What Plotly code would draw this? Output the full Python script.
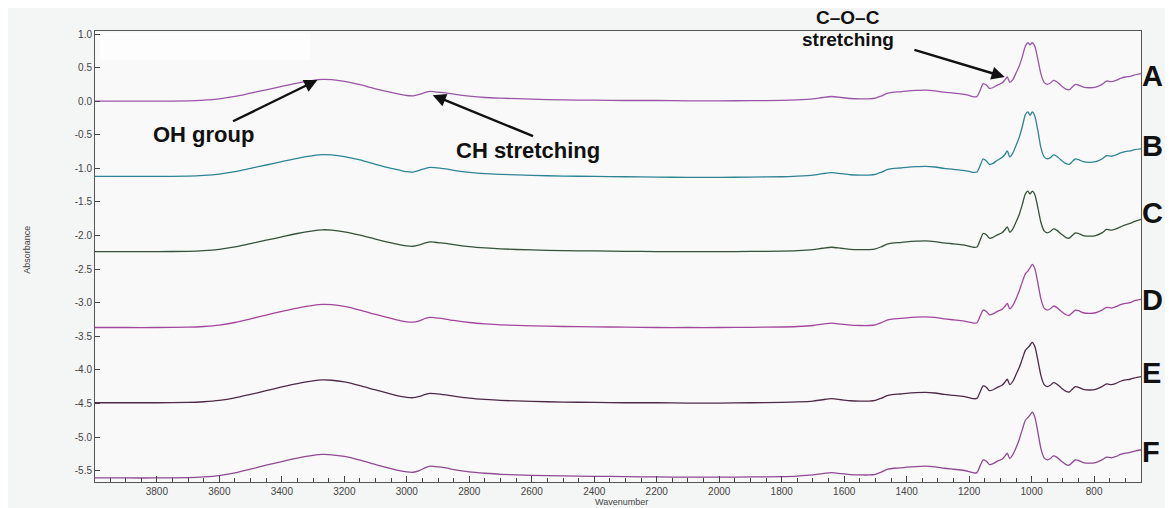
import plotly.graph_objects as go

# Wavenumber knots (cm-1)
wavenumber = [4000, 3900, 3800, 3700, 3650, 3600, 3550, 3500, 3450, 3400,
              3350, 3300, 3270, 3240, 3200, 3150, 3100, 3050, 3020, 3000,
              2980, 2960, 2940, 2925, 2910, 2890, 2870, 2850, 2800, 2750,
              2700, 2600, 2500, 2400, 2300, 2200, 2100, 2000, 1900, 1800,
              1750, 1700, 1670, 1640, 1610, 1580, 1550, 1520, 1500, 1480,
              1460, 1440, 1420, 1400, 1370, 1340, 1310, 1280, 1250, 1220,
              1200, 1185, 1175, 1165, 1155, 1145, 1135, 1125, 1110, 1095,
              1085, 1078, 1070, 1060, 1050, 1040, 1030, 1020, 1012, 1005,
              998, 990, 980, 970, 960, 950, 940, 930, 920, 905,
              890, 880, 870, 860, 850, 835, 815, 795, 775, 760,
              745, 730, 715, 700, 685, 670, 650]

# Absorbance of each spectrum above its own baseline
spec_A = [0.0, 0.0, 0.0, 0.005, 0.015, 0.035, 0.07, 0.12, 0.17, 0.22,
          0.27, 0.31, 0.325, 0.32, 0.295, 0.245, 0.185, 0.13, 0.10, 0.085,
          0.08, 0.10, 0.13, 0.145, 0.14, 0.13, 0.12, 0.105, 0.075, 0.055,
          0.045, 0.03, 0.02, 0.015, 0.01, 0.01, 0.005, 0.005, 0.008, 0.012,
          0.02, 0.035, 0.055, 0.07, 0.055, 0.04, 0.035, 0.035, 0.045, 0.08,
          0.12, 0.135, 0.14, 0.15, 0.16, 0.165, 0.155, 0.135, 0.12, 0.105,
          0.085, 0.065, 0.07, 0.16, 0.26, 0.24, 0.19, 0.20, 0.24, 0.27,
          0.32, 0.36, 0.28, 0.32, 0.42, 0.52, 0.66, 0.82, 0.87, 0.84,
          0.87, 0.82, 0.62, 0.40, 0.28, 0.25, 0.27, 0.31, 0.29, 0.23,
          0.18, 0.17, 0.21, 0.25, 0.24, 0.21, 0.20, 0.21, 0.25, 0.30,
          0.29, 0.31, 0.34, 0.36, 0.37, 0.39, 0.41]
spec_B = [0.0, 0.0, 0.0, 0.005, 0.015, 0.035, 0.07, 0.12, 0.17, 0.22,
          0.27, 0.31, 0.325, 0.32, 0.295, 0.245, 0.18, 0.12, 0.09, 0.07,
          0.065, 0.09, 0.12, 0.135, 0.13, 0.12, 0.11, 0.09, 0.06, 0.04,
          0.03, 0.015, 0.005, 0.0, -0.005, -0.01, -0.015, -0.015, -0.01, -0.005,
          0.005, 0.02, 0.04, 0.055, 0.04, 0.025, 0.02, 0.02, 0.03, 0.065,
          0.105, 0.12, 0.125, 0.135, 0.145, 0.15, 0.14, 0.12, 0.105, 0.09,
          0.075, 0.06, 0.065, 0.16, 0.26, 0.23, 0.18, 0.19, 0.24, 0.28,
          0.33, 0.38, 0.29, 0.35, 0.46, 0.58, 0.74, 0.92, 0.96, 0.91,
          0.96, 0.90, 0.68, 0.42, 0.29, 0.26, 0.28, 0.32, 0.30, 0.24,
          0.19, 0.18, 0.22, 0.26, 0.25, 0.22, 0.21, 0.22, 0.26, 0.31,
          0.30, 0.32, 0.35, 0.37, 0.38, 0.40, 0.41]
spec_C = [0.0, 0.0, 0.0, 0.005, 0.015, 0.035, 0.07, 0.12, 0.17, 0.22,
          0.27, 0.31, 0.325, 0.32, 0.295, 0.245, 0.185, 0.13, 0.10, 0.085,
          0.08, 0.10, 0.13, 0.145, 0.14, 0.13, 0.12, 0.105, 0.075, 0.055,
          0.04, 0.025, 0.015, 0.01, 0.005, 0.0, 0.0, 0.0, 0.003, 0.008,
          0.015, 0.03, 0.05, 0.065, 0.05, 0.035, 0.03, 0.03, 0.04, 0.075,
          0.115, 0.13, 0.135, 0.145, 0.155, 0.16, 0.15, 0.13, 0.115, 0.10,
          0.08, 0.065, 0.07, 0.17, 0.27, 0.25, 0.20, 0.21, 0.25, 0.28,
          0.33, 0.37, 0.29, 0.34, 0.44, 0.55, 0.70, 0.86, 0.90, 0.86,
          0.90, 0.85, 0.65, 0.43, 0.31, 0.28, 0.30, 0.34, 0.32, 0.26,
          0.21, 0.20, 0.24, 0.28, 0.27, 0.24, 0.23, 0.24, 0.28, 0.33,
          0.32, 0.34, 0.37, 0.40, 0.42, 0.45, 0.48]
spec_D = [0.0, 0.0, 0.0, 0.005, 0.015, 0.035, 0.075, 0.13, 0.185, 0.24,
          0.29, 0.33, 0.345, 0.34, 0.315, 0.26, 0.195, 0.135, 0.10, 0.085,
          0.08, 0.10, 0.135, 0.15, 0.145, 0.135, 0.12, 0.105, 0.075, 0.055,
          0.04, 0.025, 0.015, 0.01, 0.005, 0.0, 0.0, 0.0, 0.003, 0.008,
          0.015, 0.03, 0.05, 0.065, 0.05, 0.035, 0.03, 0.03, 0.04, 0.075,
          0.115, 0.13, 0.135, 0.145, 0.155, 0.16, 0.15, 0.13, 0.115, 0.10,
          0.08, 0.065, 0.07, 0.17, 0.26, 0.24, 0.19, 0.20, 0.24, 0.27,
          0.32, 0.36, 0.28, 0.33, 0.43, 0.54, 0.68, 0.80, 0.84, 0.89,
          0.94, 0.88, 0.66, 0.42, 0.29, 0.26, 0.28, 0.32, 0.30, 0.24,
          0.19, 0.18, 0.22, 0.26, 0.25, 0.22, 0.21, 0.22, 0.26, 0.30,
          0.29, 0.31, 0.34, 0.36, 0.37, 0.40, 0.42]
spec_E = [0.0, 0.0, 0.0, 0.005, 0.015, 0.035, 0.072, 0.125, 0.18, 0.235,
          0.285, 0.325, 0.34, 0.335, 0.31, 0.255, 0.19, 0.13, 0.095, 0.08,
          0.075, 0.095, 0.125, 0.14, 0.135, 0.125, 0.115, 0.10, 0.07, 0.05,
          0.035, 0.02, 0.01, 0.005, 0.0, 0.0, -0.005, -0.005, 0.0, 0.005,
          0.012, 0.025, 0.045, 0.06, 0.045, 0.03, 0.025, 0.025, 0.035, 0.07,
          0.11, 0.125, 0.13, 0.14, 0.15, 0.155, 0.145, 0.125, 0.11, 0.095,
          0.075, 0.06, 0.065, 0.16, 0.25, 0.23, 0.18, 0.19, 0.23, 0.26,
          0.31, 0.35, 0.27, 0.32, 0.42, 0.52, 0.65, 0.78, 0.82, 0.86,
          0.90, 0.84, 0.63, 0.40, 0.27, 0.24, 0.26, 0.30, 0.28, 0.22,
          0.17, 0.16, 0.20, 0.24, 0.23, 0.20, 0.19, 0.20, 0.24, 0.28,
          0.27, 0.29, 0.32, 0.34, 0.35, 0.37, 0.39]
spec_F = [0.0, 0.0, 0.0, 0.005, 0.015, 0.035, 0.075, 0.13, 0.19, 0.245,
          0.295, 0.335, 0.35, 0.345, 0.32, 0.265, 0.20, 0.14, 0.105, 0.09,
          0.085, 0.11, 0.155, 0.175, 0.17, 0.16, 0.145, 0.125, 0.09, 0.07,
          0.055, 0.04, 0.03, 0.025, 0.02, 0.015, 0.012, 0.012, 0.015, 0.02,
          0.028, 0.045, 0.065, 0.08, 0.065, 0.05, 0.045, 0.045, 0.055, 0.09,
          0.13, 0.145, 0.15, 0.16, 0.17, 0.175, 0.165, 0.145, 0.13, 0.115,
          0.095, 0.075, 0.08, 0.18, 0.27, 0.25, 0.20, 0.21, 0.25, 0.28,
          0.33, 0.37, 0.29, 0.35, 0.45, 0.57, 0.72, 0.86, 0.90, 0.94,
          0.98, 0.91, 0.68, 0.43, 0.30, 0.27, 0.29, 0.33, 0.31, 0.25,
          0.20, 0.19, 0.23, 0.27, 0.26, 0.23, 0.22, 0.23, 0.27, 0.31,
          0.30, 0.32, 0.35, 0.37, 0.38, 0.40, 0.42]

sample_names = ["A", "B", "C", "D", "E", "F"]
stack_offsets = [0.0, -1.12, -2.24, -3.37, -4.49, -5.61]
spectra = [spec_A, spec_B, spec_C, spec_D, spec_E, spec_F]
line_colors = ["#9a56a6", "#2f8494", "#35523a", "#a2489c", "#4e2a48", "#8e4a92"]
label_y = [0.375, -0.67, -1.67, -2.96, -4.04, -5.22]

y_ticks = [1.0, 0.5, 0.0, -0.5, -1.0, -1.5, -2.0, -2.5, -3.0, -3.5, -4.0, -4.5, -5.0, -5.5]
y_tick_text = ["1.0", "0.5", "0.0", "-0.5", "-1.0", "-1.5", "-2.0", "-2.5", "-3.0",
               "-3.5", "-4.0", "-4.5", "-5.0", "-5.5"]
x_ticks = [3800, 3600, 3400, 3200, 3000, 2800, 2600, 2400, 2200, 2000, 1800, 1600, 1400, 1200, 1000, 800]

fig = go.Figure()
for name, off, spec, col in zip(sample_names, stack_offsets, spectra, line_colors):
    fig.add_trace(go.Scatter(
        x=wavenumber, y=[off + v for v in spec], mode="lines", name=name,
        line=dict(color=col, width=1.3, shape="spline", smoothing=0.7),
        showlegend=False, hoverinfo="skip"))

ann = []
for name, ly in zip(sample_names, label_y):
    ann.append(dict(x=0.999, xref="paper", y=ly, yref="y", text="<b>" + name + "</b>", showarrow=False,
                    xanchor="left", yanchor="middle",
                    font=dict(family="Liberation Sans", size=29, color="#111111")))

bold = dict(family="Liberation Sans", size=22, color="#111111")
coc_font = dict(family="Liberation Sans", size=19, color="#111111")
ann += [
    dict(x=3651, y=-0.50, xref="x", yref="y", text="<b>OH group</b>", showarrow=False, font=bold),
    dict(x=2613, y=-0.73, xref="x", yref="y", text="<b>CH stretching</b>", showarrow=False, font=bold),
    dict(x=1588, y=1.030, xref="x", yref="paper", yanchor="middle",
         text="<b>C–O–C</b>", showarrow=False, font=coc_font),
    dict(x=1588, y=0.982, xref="x", yref="paper", yanchor="middle",
         text="<b>stretching</b>", showarrow=False, font=coc_font),
    dict(x=3286, y=0.315, ax=3561, ay=-0.31, xref="x", yref="y", axref="x", ayref="y", text="",
         showarrow=True, arrowhead=2, arrowsize=1.1, arrowwidth=2.4, arrowcolor="#111111"),
    dict(x=2917, y=0.09, ax=2591, ay=-0.53, xref="x", yref="y", axref="x", ayref="y", text="",
         showarrow=True, arrowhead=2, arrowsize=1.1, arrowwidth=2.4, arrowcolor="#111111"),
    dict(x=1086, y=0.36, ax=1380, ay=0.77, xref="x", yref="y", axref="x", ayref="y", text="",
         showarrow=True, arrowhead=2, arrowsize=1.1, arrowwidth=2.4, arrowcolor="#111111"),
    dict(x=-0.072, y=0.514, xref="paper", yref="paper", text="Absorbance", textangle=-90,
         showarrow=False, font=dict(family="Liberation Sans", size=9, color="#444444")),
    dict(x=0.503, y=-0.029, xref="paper", yref="paper", text="Wavenumber", yanchor="top",
         showarrow=False, font=dict(family="Liberation Sans", size=9, color="#444444")),
]

# The page body has an 8px margin, so the figure is 8px smaller than the window
fig.update_layout(
    width=1165, height=500,
    margin=dict(l=87, r=32, t=23, b=26),
    paper_bgcolor="#f4f5f5", plot_bgcolor="#f9f9f9",
    annotations=ann,
    shapes=[dict(type="rect", xref="paper", yref="paper", x0=0.005, x1=0.206, y0=0.936, y1=0.996,
                 fillcolor="#fdfdfd", line=dict(width=0), layer="below")],
    xaxis=dict(range=[3998, 650], tickmode="array", tickvals=x_ticks,
               ticks="inside", ticklen=6, tickcolor="#444", showgrid=False, zeroline=False,
               showline=True, linecolor="#555", linewidth=1, mirror=True,
               tickfont=dict(family="Liberation Sans", size=10, color="#444"),
               minor=dict(tickmode="linear", tick0=0, dtick=50, ticks="inside", ticklen=4, tickcolor="#444")),
    yaxis=dict(range=[-5.67, 1.045], tickmode="array", tickvals=y_ticks, ticktext=y_tick_text,
               ticks="inside", ticklen=5, tickcolor="#444", showgrid=False, zeroline=False,
               showline=True, linecolor="#555", linewidth=1, mirror=True,
               tickfont=dict(family="Liberation Sans", size=10, color="#444")),
)

fig.write_html("out.html")
